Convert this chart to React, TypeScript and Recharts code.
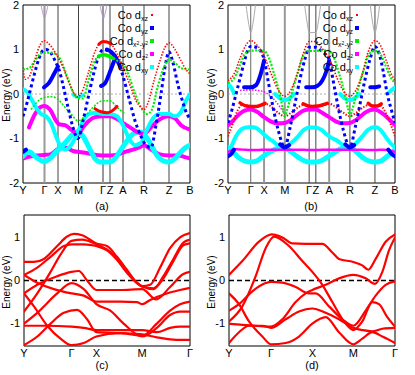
import React from "react";
import {
  LineChart,
  Line,
  XAxis,
  YAxis,
  ReferenceLine,
  ReferenceArea,
} from "recharts";

const FONT = '"Liberation Sans", Arial, Helvetica, sans-serif';

// ---- k-path for the projected panels (a) and (b)
const kA = [0, 21.5, 35, 55.5, 80, 87, 100, 121, 146, 167];
const kB = [0, 22.7, 36, 56.7, 81, 87.7, 101, 121.7, 146.7, 166.7];
const kTopLabels = ["Y", "Γ", "X", "M", "Γ", "Z", "A", "R", "Z", "B"];

// ---- k-path for the plain panels (c) and (d)
const kC = [0, 143, 218, 356, 500];
const kD = [0, 126, 250, 373, 498];
const kBottomLabels = ["Y", "Γ", "X", "M", "Γ"];

// ---- panel (a) orbital-weighted bands [k, E]
const aRed = [[0,0.6],[2,0.33],[6,0.38],[11,0.7],[16,1.05],[21,1.2],[27,1.1],[33,0.9],[40,0.6],[47,0.2],[52,-0.02],[55,-0.07],[59,0.05],[65,0.45],[72,0.95],[77,1.15],[82,1.18],[87,1.15],[93,0.95],[100,0.6],[107,0.2],[113,-0.15],[118,-0.3],[121,-0.35],[125,-0.2],[131,0.3],[137,0.75],[142,1.05],[146,1.15],[152,1.0],[158,0.75],[163,0.55],[167,0.45]];
const aRedTop = [[76,1.12],[80,1.18],[84,1.17],[88,1.12]];
const aRedLow = [[72,-0.33],[78,-0.4],[84,-0.42],[89,-0.38],[94,-0.28]];
const aGreen = [[0,0.55],[6,0.58],[12,0.75],[17,0.9],[21,0.93],[27,0.93],[33,0.9],[38,0.75],[44,0.4],[50,0.05],[55,-0.1],[60,-0.1],[66,0.35],[72,0.75],[77,0.87],[82,0.88],[87,0.85],[94,0.75],[100,0.68],[106,0.4],[112,0.0],[118,-0.3],[124,-0.45],[129,-0.35],[134,0.1],[140,0.55],[146,0.78],[152,0.7],[158,0.58],[167,0.55]];
const aGreenTop = [[76,0.85],[80,0.88],[85,0.86],[90,0.8]];
const aGreenLow = [[8,-0.35],[14,-0.18],[21,-0.08],[28,-0.06],[35,-0.12],[42,-0.3],[48,-0.45],[55,-0.6],[62,-0.5],[70,-0.3],[80,-0.15],[87,-0.15],[94,-0.3],[102,-0.45]];
const aBlue = [[0,-0.5],[4,-0.2],[8,0.15],[12,0.5],[16,0.8],[20,0.98],[23,1.0],[28,0.92],[33,0.7],[36,0.55],[40,0.2],[45,-0.3],[50,-0.75],[55,-1.0],[60,-0.6],[65,-0.1],[70,0.4],[75,0.8],[80,1.0],[85,0.97],[90,0.9],[95,0.75],[100,0.4],[106,-0.1],[112,-0.6],[118,-0.95],[123,-1.15],[128,-1.2],[133,-0.7],[138,0.0],[142,0.6],[146,0.95],[150,0.7],[155,0.2],[160,-0.2],[164,-0.45],[167,-0.55]];
const aBlueThick = [[21,0.15],[26,0.25],[31,0.45],[35,0.62]];
const aBlueThick2 = [[78,0.18],[82,0.24],[87,0.5],[92,0.8]];
const aBlueThick3 = [[84,1.0],[88,0.95],[92,0.85],[97,0.62]];
const aBlueBottom = [[0,-1.3],[3,-1.25]];
const aMag = [[6,-0.75],[12,-0.45],[17,-0.3],[21,-0.27],[27,-0.35],[33,-0.6],[36,-0.68],[42,-0.7],[48,-0.8],[55,-0.9],[60,-0.75],[66,-0.6],[72,-0.52],[80,-0.5],[87,-0.5],[93,-0.55],[100,-0.65],[107,-0.75],[114,-0.85],[121,-0.9],[128,-0.75],[135,-0.6],[141,-0.52],[146,-0.5],[152,-0.55],[158,-0.7],[167,-0.8]];
const aMagLow = [[0,-1.45],[8,-1.4],[14,-1.38],[21,-1.37],[28,-1.35],[34,-1.25],[42,-1.2],[50,-1.28],[55,-1.3],[62,-1.32],[70,-1.36],[80,-1.38],[87,-1.38],[95,-1.36],[102,-1.3],[110,-1.25],[116,-1.2],[121,-1.15],[128,-1.25],[136,-1.35],[146,-1.38],[156,-1.38],[162,-1.42],[167,-1.45]];
const aCyanUp = [[0,0.1],[4,0.05],[8,-0.1],[13,-0.3],[18,-0.45],[23,-0.5],[28,-0.65],[33,-0.95],[37,-1.15],[42,-1.25],[48,-1.15],[54,-0.9],[60,-0.6],[66,-0.45],[72,-0.42],[80,-0.45],[87,-0.45],[94,-0.5],[100,-0.7],[106,-1.0],[112,-1.15],[118,-1.1],[124,-0.8],[130,-0.55],[137,-0.45],[146,-0.45],[152,-0.5],[158,-0.4],[163,-0.15],[167,0.0]];
const aCyanLow = [[0,-1.4],[6,-1.3],[12,-1.4],[17,-1.48],[21,-1.52],[27,-1.45],[33,-1.3],[38,-1.2],[44,-1.05],[50,-0.9],[55,-0.85],[60,-0.95],[66,-1.2],[72,-1.45],[78,-1.53],[87,-1.53],[92,-1.45],[98,-1.25],[104,-1.05],[110,-0.9],[116,-0.85],[121,-0.9],[127,-1.1],[133,-1.35],[140,-1.5],[146,-1.53],[152,-1.45],[158,-1.3],[163,-1.2],[167,-1.15]];
const aCyanM = [[50,-0.02],[55,-0.07],[60,-0.02]];
const aGrayU1 = [[18,2.0],[20,1.8],[21.5,1.7],[23,1.8],[25,2.0]];
const aGrayU2 = [[77,2.0],[79,1.8],[80.5,1.7],[82,1.8],[84,2.0]];

// ---- panel (b) orbital-weighted bands [k, E]
const bRed = [[0,0.3],[6,0.45],[12,0.8],[18,1.1],[22.7,1.2],[28,1.12],[33,0.98],[38,0.75],[44,0.4],[50,0.1],[56.7,-0.05],[63,0.1],[69,0.45],[75,0.9],[81,1.18],[87.7,1.18],[93,1.05],[98,0.9],[103,0.7],[109,0.35],[115,0.08],[121.7,-0.05],[128,0.1],[134,0.45],[140,0.95],[146.7,1.2],[152,1.1],[158,0.75],[163,0.45],[166.7,0.3]];
const bRedLow = [[0,-0.95],[5,-0.65],[10,-0.35],[15,-0.24],[22.7,-0.28],[30,-0.27],[37,-0.22],[44,-0.3],[50,-0.42],[56.7,-0.5],[63,-0.42],[70,-0.3],[76,-0.24],[81,-0.28],[87.7,-0.28],[95,-0.26],[101,-0.22],[108,-0.3],[115,-0.42],[121.7,-0.5],[128,-0.42],[135,-0.3],[141,-0.24],[146.7,-0.28],[152,-0.26],[158,-0.45],[166.7,-0.95]];
const bRedThick1 = [[12,-0.2],[17,-0.26],[22.7,-0.28],[28,-0.28],[33,-0.25],[37,-0.21]];
const bRedThick2 = [[75,-0.22],[80,-0.27],[84,-0.28],[90,-0.27],[95,-0.24],[99,-0.21]];
const bRedThick3 = [[140,-0.21],[144,-0.27],[149,-0.27],[153,-0.22]];
const bGreen = [[0,0.25],[6,0.35],[12,0.65],[17,0.9],[22.7,0.97],[30,0.98],[36,0.97],[41,0.8],[46,0.45],[51,0.05],[55,-0.35],[56.7,-0.5],[59,-0.35],[64,0.05],[70,0.5],[76,0.9],[81,0.97],[87.7,0.97],[94,0.98],[101,0.97],[106,0.8],[111,0.45],[116,0.05],[120,-0.35],[121.7,-0.5],[124,-0.35],[129,0.05],[135,0.5],[141,0.9],[146.7,0.97],[152,0.9],[158,0.6],[163,0.35],[166.7,0.25]];
const bBlue = [[0,-0.65],[4,-0.35],[8,0.0],[12,0.35],[16,0.7],[20,1.0],[22.7,1.07],[28,1.05],[33,0.95],[36,0.78],[40,0.3],[45,-0.3],[50,-0.8],[56.7,-1.2],[62,-0.75],[67,-0.2],[72,0.35],[77,0.8],[81,1.05],[87.7,1.05],[94,0.95],[101,0.78],[105,0.3],[110,-0.3],[115,-0.8],[121.7,-1.2],[127,-0.75],[132,-0.2],[137,0.35],[142,0.8],[146.7,1.07],[151,0.9],[155,0.5],[159,0.0],[163,-0.35],[166.7,-0.65]];
const bBlueThick1 = [[16,0.15],[22.7,0.15],[28,0.2],[32,0.4],[36,0.75]];
const bBlueThick2 = [[78,0.15],[84,0.15],[89,0.18],[94,0.3],[98,0.5],[101,0.75]];
const bBlueThick3 = [[142,0.15],[146.7,0.15],[151,0.17]];
const bBlueY = [[0,-1.4],[3,-1.35],[6,-1.25]];
const bBlueM = [[52,-1.13],[56.7,-1.2],[61,-1.15]];
const bBlueR = [[117,-1.13],[121.7,-1.2],[126,-1.15]];
const bBlueB = [[160,-1.25],[163.5,-1.35],[166.7,-1.4]];
const bMagThin = [[12,0.08],[22.7,0.09],[33,0.07],[45,-0.1],[56.7,-0.45]];
const bMag = [[0,-0.7],[5,-0.6],[10,-0.48],[16,-0.38],[22.7,-0.35],[29,-0.4],[36,-0.52],[43,-0.62],[50,-0.66],[56.7,-0.65],[63,-0.58],[70,-0.45],[76,-0.37],[81,-0.35],[87.7,-0.35],[94,-0.42],[101,-0.52],[108,-0.62],[115,-0.66],[121.7,-0.65],[128,-0.58],[135,-0.45],[141,-0.37],[146.7,-0.35],[153,-0.42],[160,-0.55],[166.7,-0.7]];
const bMagLow = [[0,-1.3],[8,-1.24],[15,-1.25],[22.7,-1.26],[30,-1.26],[36,-1.25],[44,-1.25],[56.7,-1.25],[70,-1.25],[81,-1.26],[87.7,-1.26],[101,-1.25],[115,-1.25],[130,-1.25],[140,-1.26],[146.7,-1.26],[156,-1.25],[166.7,-1.3]];
const bCyanUp = [[3,-1.2],[8,-0.95],[13,-0.8],[18,-0.75],[22.7,-0.74],[28,-0.76],[33,-0.85],[38,-0.95],[44,-1.05],[50,-1.15],[56.7,-1.2],[63,-1.1],[70,-0.95],[76,-0.8],[81,-0.75],[87.7,-0.75],[93,-0.8],[98,-0.9],[103,-0.98],[109,-1.05],[115,-1.15],[121.7,-1.2],[128,-1.1],[134,-0.95],[140,-0.8],[146.7,-0.74],[152,-0.8],[157,-0.95],[162,-1.1],[166.7,-1.2]];
const bCyanLow = [[0,-1.2],[5,-1.3],[10,-1.42],[16,-1.5],[22.7,-1.53],[29,-1.5],[35,-1.4],[42,-1.3],[50,-1.22],[56.7,-1.2],[63,-1.3],[70,-1.42],[76,-1.5],[81,-1.53],[87.7,-1.53],[93,-1.5],[99,-1.42],[106,-1.32],[114,-1.22],[121.7,-1.2],[128,-1.3],[134,-1.42],[140,-1.5],[146.7,-1.53],[153,-1.5],[159,-1.4],[166.7,-1.25]];
const bCyanTop = [[0,0.22],[3,0.15],[6,0.02]];
const bCyanM = [[47,0.0],[52,-0.1],[56.7,-0.14],[61,-0.1],[66,0.0]];
const bCyanR = [[112,0.0],[117,-0.1],[121.7,-0.14],[126,-0.1],[131,0.0]];
const bCyanB = [[160,0.02],[164,0.1],[166.7,0.15]];
const bGrayU1 = [[18,2.0],[20.5,1.6],[22.7,1.38],[25,1.6],[27.4,2.0]];
const bGrayU2 = [[76.5,2.0],[79,1.6],[81,1.38],[87.7,1.38],[90,1.6],[92.5,2.0]];
const bGrayU3 = [[142,2.0],[144.4,1.6],[146.7,1.38],[149,1.6],[151.4,2.0]];

// ---- panel (c) bands [k, E]
const c1 = [[0,0.43],[30,0.43],[60,0.5],[100,0.8],[130,1.02],[150,1.08],[175,1.05],[218,0.86],[250,0.8],[280,0.55],[310,0.25],[340,-0.05],[356,-0.13],[380,-0.1],[410,0.3],[440,0.75],[470,1.0],[500,1.1]];
const c2 = [[0,0.13],[40,0.3],[80,0.55],[120,0.8],[143,0.84],[180,0.84],[218,0.8],[250,0.7],[280,0.48],[310,0.18],[340,-0.06],[356,-0.14],[390,-0.2],[420,0.1],[450,0.5],[480,0.88],[500,0.95]];
const c3 = [[0,-0.72],[40,-0.3],[80,0.2],[110,0.6],[143,0.92],[175,0.95],[218,0.84],[250,0.72],[280,0.5],[310,0.2],[340,-0.05],[356,-0.14],[390,-0.18],[420,0.05],[450,0.45],[480,0.82],[500,0.86]];
const c4 = [[0,-0.3],[40,-0.1],[100,0.1],[143,0.2],[165,0.22],[190,0.0],[218,-0.22],[290,-0.22],[356,-0.2],[398,-0.44],[440,-0.15],[480,0.15],[500,0.2]];
const c5 = [[0,0.13],[40,-0.05],[90,-0.2],[143,-0.3],[180,-0.35],[218,-0.49],[290,-0.49],[340,-0.5],[356,-0.55],[380,-0.45],[430,-0.3],[470,-0.22],[500,-0.17]];
const c6 = [[0,-1.0],[40,-0.75],[100,-0.3],[143,-0.06],[180,-0.2],[218,-0.55],[260,-0.7],[300,-1.0],[356,-1.3],[400,-1.1],[440,-0.8],[470,-0.72],[500,-0.72]];
const c7 = [[0,-1.05],[60,-1.05],[143,-1.07],[180,-1.1],[218,-1.15],[290,-1.15],[356,-1.15],[400,-1.2],[440,-1.1],[470,-1.07],[500,-1.07]];
const c8 = [[0,-1.5],[40,-1.3],[80,-1.0],[120,-0.75],[160,-0.68],[190,-0.9],[218,-1.2],[290,-1.22],[356,-1.25],[400,-1.32],[450,-1.37],[500,-1.38]];
const c9 = [[0,-0.3],[30,-0.6],[70,-1.05],[110,-1.35],[143,-1.5],[180,-1.45],[218,-1.3],[290,-1.22],[356,-1.28],[400,-1.0],[440,-0.7],[470,-0.55],[500,-0.49]];

// ---- panel (d) bands [k, E]
const d1 = [[0,0.13],[40,0.45],[90,0.9],[128,1.07],[160,1.0],[190,0.86],[230,0.85],[280,0.85],[310,0.65],[330,0.5],[373,0.43],[400,0.35],[418,0.25],[440,0.5],[470,0.9],[498,1.07]];
const d2 = [[0,-0.95],[40,-0.6],[80,0.1],[110,0.75],[135,1.02],[180,0.8],[220,0.45],[250,0.2],[280,-0.1],[310,-0.5],[350,-1.0],[373,-1.15],[400,-0.95],[430,-0.5],[450,-0.55],[475,-0.85],[498,-1.07]];
const d3 = [[0,-0.7],[30,-0.55],[70,-0.25],[110,-0.06],[126,-0.03],[160,-0.05],[200,-0.15],[240,-0.3],[260,-0.3],[300,-0.6],[340,-0.9],[373,-1.05],[410,-0.7],[440,-0.35],[470,-0.1],[498,-0.02]];
const d4 = [[0,-0.3],[30,-0.55],[60,-0.95],[100,-1.3],[126,-1.48],[170,-1.45],[210,-1.3],[250,-1.0],[290,-0.85],[330,-1.2],[373,-1.48],[400,-1.35],[430,-1.2],[460,-1.3],[498,-1.45]];
const d5 = [[0,-1.45],[30,-1.2],[60,-1.05],[100,-1.05],[126,-1.1],[170,-0.9],[210,-0.72],[250,-0.65],[290,-0.75],[330,-0.9],[373,-1.1],[400,-1.15],[430,-1.18],[460,-1.12],[498,-1.1]];
const d6 = [[0,-1.0],[40,-1.03],[80,-1.05],[126,-1.07],[160,-0.9],[200,-0.5],[230,-0.3],[250,-0.22],[290,-0.1],[330,0.05],[373,0.13],[410,0.05],[438,-0.08],[460,0.2],[480,0.7],[498,1.0]];

type Pt = number[];
type Series = { pts: Pt[]; color: string; width: number; dash?: string };

const RED = "#ff0000";
const GREEN = "#00ee00";
const BLUE = "#0000ff";
const MAG = "#ff00ff";
const CYAN = "#00ffff";

const redDots = { color: RED, width: 1.6, dash: "1.4 1.6" };
const greenDots = { color: GREEN, width: 2.2, dash: "2 1.5" };
const blueDots = { color: BLUE, width: 3, dash: "3 3" };

const seriesA: Series[] = [
  { pts: aGrayU1, color: "#b59ccc", width: 1 },
  { pts: aGrayU2, color: "#b59ccc", width: 1 },
  { pts: aMagLow, color: MAG, width: 4 },
  { pts: aCyanLow, color: CYAN, width: 5 },
  { pts: aMag, color: MAG, width: 4 },
  { pts: aCyanUp, color: CYAN, width: 4 },
  { pts: aCyanM, color: CYAN, width: 3 },
  { pts: aGreenLow, ...greenDots, width: 1.6 },
  { pts: aBlue, ...blueDots },
  { pts: aBlueThick, color: BLUE, width: 4 },
  { pts: aBlueThick2, color: BLUE, width: 4 },
  { pts: aBlueThick3, color: BLUE, width: 4 },
  { pts: aBlueBottom, color: BLUE, width: 4 },
  { pts: aGreen, ...greenDots },
  { pts: aGreenTop, color: GREEN, width: 3.5 },
  { pts: aRed, ...redDots },
  { pts: aRedTop, color: RED, width: 3 },
  { pts: aRedLow, color: RED, width: 3 },
];

const seriesB: Series[] = [
  { pts: bGrayU1, color: "#aaaaaa", width: 1 },
  { pts: bGrayU2, color: "#aaaaaa", width: 1 },
  { pts: bGrayU3, color: "#aaaaaa", width: 1 },
  { pts: bCyanLow, color: CYAN, width: 5 },
  { pts: bCyanUp, color: CYAN, width: 4 },
  { pts: bMagLow, color: MAG, width: 2.5 },
  { pts: bMag, color: MAG, width: 4 },
  { pts: bMagThin, color: MAG, width: 1.5, dash: "1.5 1.5" },
  { pts: bCyanTop, color: CYAN, width: 4 },
  { pts: bCyanM, color: CYAN, width: 4 },
  { pts: bCyanR, color: CYAN, width: 4 },
  { pts: bCyanB, color: CYAN, width: 4 },
  { pts: bRedLow, ...redDots, width: 2 },
  { pts: bRedThick1, color: RED, width: 3.5 },
  { pts: bRedThick2, color: RED, width: 3.5 },
  { pts: bRedThick3, color: RED, width: 3.5 },
  { pts: bBlue, ...blueDots },
  { pts: bBlueThick1, color: BLUE, width: 4 },
  { pts: bBlueThick2, color: BLUE, width: 4 },
  { pts: bBlueThick3, color: BLUE, width: 4 },
  { pts: bBlueY, color: BLUE, width: 4 },
  { pts: bBlueM, color: BLUE, width: 4 },
  { pts: bBlueR, color: BLUE, width: 4 },
  { pts: bBlueB, color: BLUE, width: 4 },
  { pts: bGreen, ...greenDots },
  { pts: bRed, ...redDots },
];

const seriesC: Series[] = [c1, c2, c3, c4, c5, c6, c7, c8, c9].map((pts) => ({ pts, color: RED, width: 2.2 }));
const seriesD: Series[] = [d1, d2, d3, d4, d5, d6].map((pts) => ({ pts, color: RED, width: 2.2 }));

const vlinesA = [
  { k: 21.5, c: "#999", w: 2 }, { k: 35, c: "#444", w: 1 }, { k: 55.5, c: "#444", w: 1 },
  { k: 80, c: "#999", w: 2 }, { k: 87, c: "#444", w: 1 }, { k: 100, c: "#999", w: 2 },
  { k: 121, c: "#444", w: 1 }, { k: 146, c: "#444", w: 1 },
];
const vlinesB = [
  { k: 22.7, c: "#666", w: 1 }, { k: 36, c: "#999", w: 2 }, { k: 56.7, c: "#999", w: 2 },
  { k: 81, c: "#444", w: 1 }, { k: 87.7, c: "#444", w: 1 }, { k: 101, c: "#999", w: 2 },
  { k: 121.7, c: "#444", w: 1 }, { k: 146.7, c: "#444", w: 1 },
];

type PanelProps = {
  left: number;
  top: number;
  height: number;
  yWidth: number;
  marginTop: number;
  xHeight: number;
  kMax: number;
  kTicks: number[];
  kLabels: string[];
  yDomain: number[];
  yTicks: number[];
  series: Series[];
  vlines?: { k: number; c: string; w: number }[];
  zeroDark?: boolean;
};

function Panel(p: PanelProps) {
  const labelOf = new Map(p.kTicks.map((k, i) => [k, p.kLabels[i]]));
  return (
    <div style={{ position: "absolute", left: p.left, top: p.top }}>
      <LineChart
        width={200}
        height={p.height}
        margin={{ top: p.marginTop, right: 10, bottom: 0, left: 0 }}
      >
        <XAxis
          type="number"
          dataKey="k"
          domain={[0, p.kMax]}
          allowDataOverflow
          ticks={p.kTicks}
          interval={0}
          tickFormatter={(v: number) => labelOf.get(v) ?? ""}
          tick={{ fontSize: 11, fill: "#000", fontFamily: FONT }}
          tickLine={false}
          axisLine={false}
          tickSize={1}
          height={p.xHeight}
        />
        <YAxis
          type="number"
          domain={p.yDomain}
          allowDataOverflow
          ticks={p.yTicks}
          interval={0}
          tick={{ fontSize: 11, fill: "#000", fontFamily: FONT }}
          tickLine={false}
          axisLine={false}
          tickSize={2}
          width={p.yWidth}
        />
        {(p.vlines || []).map((v, i) => (
          <ReferenceLine key={"v" + i} x={v.k} stroke={v.c} strokeWidth={v.w} />
        ))}
        <ReferenceLine
          y={0}
          stroke={p.zeroDark ? "#000" : "#999"}
          strokeWidth={p.zeroDark ? 1.5 : 0.8}
          strokeDasharray={p.zeroDark ? "5 3" : "2 2"}
        />
        {p.series.map((s, i) => (
          <Line
            key={i}
            data={s.pts.map(([k, e]) => ({ k, e }))}
            dataKey="e"
            type="monotone"
            stroke={s.color}
            strokeWidth={s.width}
            strokeDasharray={s.dash}
            strokeLinecap={s.dash ? "butt" : "round"}
            dot={false}
            activeDot={false}
            isAnimationActive={false}
          />
        ))}
        <ReferenceArea
          x1={0}
          x2={p.kMax}
          y1={p.yDomain[0]}
          y2={p.yDomain[1]}
          fill="none"
          stroke="#000"
          strokeWidth={1}
        />
      </LineChart>
    </div>
  );
}

const legendRows = [
  { sub: "xz", color: RED, size: 2 },
  { sub: "yz", color: BLUE, size: 4 },
  { sub: "x2-y2", color: GREEN, size: 4 },
  { sub: "z2", color: MAG, size: 4 },
  { sub: "xy", color: CYAN, size: 4 },
];
const legendY = [15, 28, 41, 54, 67];

function SubText({ s }: { s: string }) {
  const parts = s.split(/(2)/).filter((x) => x !== "");
  return (
    <>
      {parts.map((t, i) =>
        t === "2" ? (
          <span key={i} style={{ fontSize: 5, verticalAlign: "top", lineHeight: "5px" }}>2</span>
        ) : (
          <span key={i}>{t}</span>
        )
      )}
    </>
  );
}

function Legend({ left }: { left: number }) {
  return (
    <>
      {legendRows.map((it, i) => (
        <React.Fragment key={i}>
          <div
            style={{
              position: "absolute",
              right: 415 - (left + 148),
              top: legendY[i] - 6,
              height: 12,
              fontFamily: FONT,
              fontSize: 11,
              lineHeight: "12px",
              whiteSpace: "nowrap",
              color: "#000",
              display: "flex",
              alignItems: "flex-start",
            }}
          >
            <span>Co d</span>
            <span style={{ fontSize: 7, lineHeight: "7px", marginTop: 6, display: "inline-flex" }}>
              <SubText s={it.sub} />
            </span>
          </div>
          <div
            style={{
              position: "absolute",
              left: left + 152 - it.size / 2,
              top: legendY[i] - it.size / 2,
              width: it.size,
              height: it.size,
              background: it.color,
            }}
          />
        </React.Fragment>
      ))}
    </>
  );
}

function EnergyLabel({ x, y }: { x: number; y: number }) {
  return (
    <div
      style={{
        position: "absolute",
        left: x - 40,
        top: y - 7,
        width: 80,
        textAlign: "center",
        transform: "rotate(-90deg)",
        fontFamily: FONT,
        fontSize: 10,
        lineHeight: "14px",
      }}
    >
      Energy (eV)
    </div>
  );
}

function Caption({ x, y, text }: { x: number; y: number; text: string }) {
  return (
    <div
      style={{
        position: "absolute",
        left: x - 15,
        top: y - 7,
        width: 30,
        textAlign: "center",
        fontFamily: FONT,
        fontSize: 11,
        lineHeight: "14px",
      }}
    >
      {text}
    </div>
  );
}

export default function App() {
  return (
    <div
      style={{
        position: "absolute",
        left: 0,
        top: 0,
        width: 415,
        height: 375,
        background: "#fff",
        overflow: "hidden",
      }}
    >
      <Panel left={0} top={0} height={200} yWidth={23} marginTop={5} xHeight={17} kMax={167}
        kTicks={kA} kLabels={kTopLabels} yDomain={[-2, 2]} yTicks={[-2, -1, 0, 1, 2]}
        series={seriesA} vlines={vlinesA} />
      <Panel left={205} top={0} height={200} yWidth={23} marginTop={5} xHeight={17} kMax={166.7}
        kTicks={kB} kLabels={kTopLabels}
        yDomain={[-2, 2]} yTicks={[-2, -1, 0, 1, 2]} series={seriesB} vlines={vlinesB} />
      <Panel left={0} top={205} height={160} yWidth={24} marginTop={10} xHeight={19} kMax={500}
        kTicks={kC} kLabels={kBottomLabels} yDomain={[-1.52, 1.52]} yTicks={[-1, 0, 1]}
        series={seriesC} zeroDark />
      <Panel left={205} top={205} height={160} yWidth={24} marginTop={10} xHeight={19} kMax={498}
        kTicks={kD} kLabels={kBottomLabels} yDomain={[-1.52, 1.52]} yTicks={[-1, 0, 1]}
        series={seriesD} zeroDark />
      <Legend left={0} />
      <Legend left={205} />
      <EnergyLabel x={7} y={95} />
      <EnergyLabel x={212} y={95} />
      <EnergyLabel x={7} y={282} />
      <EnergyLabel x={212} y={282} />
      <Caption x={102} y={206} text="(a)" />
      <Caption x={311} y={206} text="(b)" />
      <Caption x={102} y={365} text="(c)" />
      <Caption x={312} y={365} text="(d)" />
    </div>
  );
}
